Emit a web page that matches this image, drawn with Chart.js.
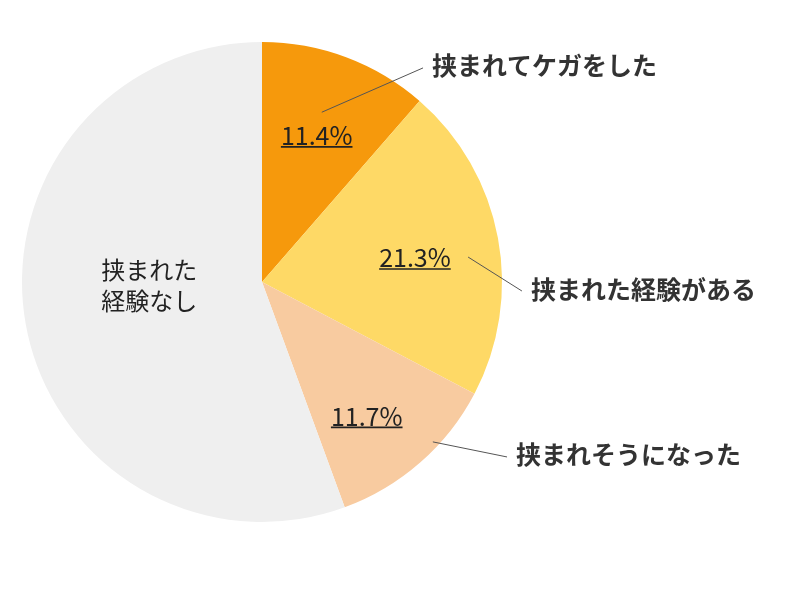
<!DOCTYPE html>
<html>
<head>
<meta charset="utf-8">
<script src="https://cdn.jsdelivr.net/npm/chart.js@4"></script>
<style>
  html, body { margin: 0; padding: 0; background: #fff; }
  #wrap { width: 800px; height: 600px; }
</style>
</head>
<body>
<div id="wrap"><canvas id="pie"></canvas></div>
<script>
// データ（円グラフの値）
const categories = ['挟まれてケガをした', '挟まれた経験がある', '挟まれそうになった', '挟まれた\n経験なし'];
const values = [11.4, 21.3, 11.7, 55.6];
const valueLabels = ['11.4%', '21.3%', '11.7%', ''];
const colors = ['#F6990C', '#FED966', '#F8CBA0', '#EFEFEF'];

// ラベル配置（半径比・角度補正）
const innerPos = [
  { r: 0.65, da: 0 },
  { r: 0.645, da: 1.7 },
  { r: 0.71, da: 3.3 },
  { r: 0.47, da: 8.6 }
];
// 外側ラベル：引き出し線の始点（半径比・角度）と終点（中心からの半径単位）
const outerPos = [
  { r0: 0.75, a0: -70.6, x1: 0.671, y1: -0.892 },
  { r0: 0.865, a0: -6.9, x1: 1.083, y1: 0.0375 },
  { r0: 0.975, a0: 43.1, x1: 1.021, y1: 0.729 },
  null
];

const FONT = '"Noto Sans CJK JP", "Noto Sans", sans-serif';
const rad = d => d * Math.PI / 180;

// ラベル描画プラグイン
const labelPlugin = {
  id: 'pieLabels',
  afterDatasetsDraw(chart) {
    const ctx = chart.ctx;
    const arcs = chart.getDatasetMeta(0).data;
    ctx.save();
    arcs.forEach((arc, i) => {
      const cx = arc.x, cy = arc.y, R = arc.outerRadius;
      const mid = (arc.startAngle + arc.endAngle) / 2 + rad(innerPos[i].da);
      const px = cx + Math.cos(mid) * R * innerPos[i].r;
      const py = cy + Math.sin(mid) * R * innerPos[i].r;
      ctx.textAlign = 'center';
      ctx.textBaseline = 'middle';
      ctx.fillStyle = '#222';
      if (valueLabels[i]) {
        ctx.font = '25px ' + FONT;
        ctx.fillText(valueLabels[i], px, py);
        const w = ctx.measureText(valueLabels[i]).width;
        ctx.strokeStyle = '#222';
        ctx.lineWidth = 1.6;
        ctx.beginPath();
        ctx.moveTo(px - w / 2, py + 11);
        ctx.lineTo(px + w / 2, py + 11);
        ctx.stroke();
      } else {
        ctx.font = '24px ' + FONT;
        const lines = categories[i].split('\n');
        lines.forEach((t, k) => ctx.fillText(t, px, py + (k - (lines.length - 1) / 2) * 31));
      }

      const o = outerPos[i];
      if (o) {
        const sx = cx + Math.cos(rad(o.a0)) * R * o.r0;
        const sy = cy + Math.sin(rad(o.a0)) * R * o.r0;
        const ex = cx + o.x1 * R;
        const ey = cy + o.y1 * R;
        ctx.strokeStyle = '#555';
        ctx.lineWidth = 1;
        ctx.beginPath();
        ctx.moveTo(sx, sy);
        ctx.lineTo(ex, ey);
        ctx.stroke();
        ctx.font = 'bold 25px ' + FONT;
        ctx.fillStyle = '#333';
        ctx.textAlign = 'left';
        ctx.fillText(categories[i], ex + 9, ey - 2);
      }
    });
    ctx.restore();
  }
};

new Chart(document.getElementById('pie'), {
  type: 'pie',
  data: {
    labels: categories,
    datasets: [{
      data: values,
      backgroundColor: colors,
      borderWidth: 0
    }]
  },
  options: {
    responsive: true,
    maintainAspectRatio: false,
    animation: false,
    layout: { padding: { left: 22, right: 298, top: 42, bottom: 78 } },
    plugins: {
      legend: { display: false },
      tooltip: { enabled: false }
    }
  },
  plugins: [labelPlugin]
});
</script>
</body>
</html>
